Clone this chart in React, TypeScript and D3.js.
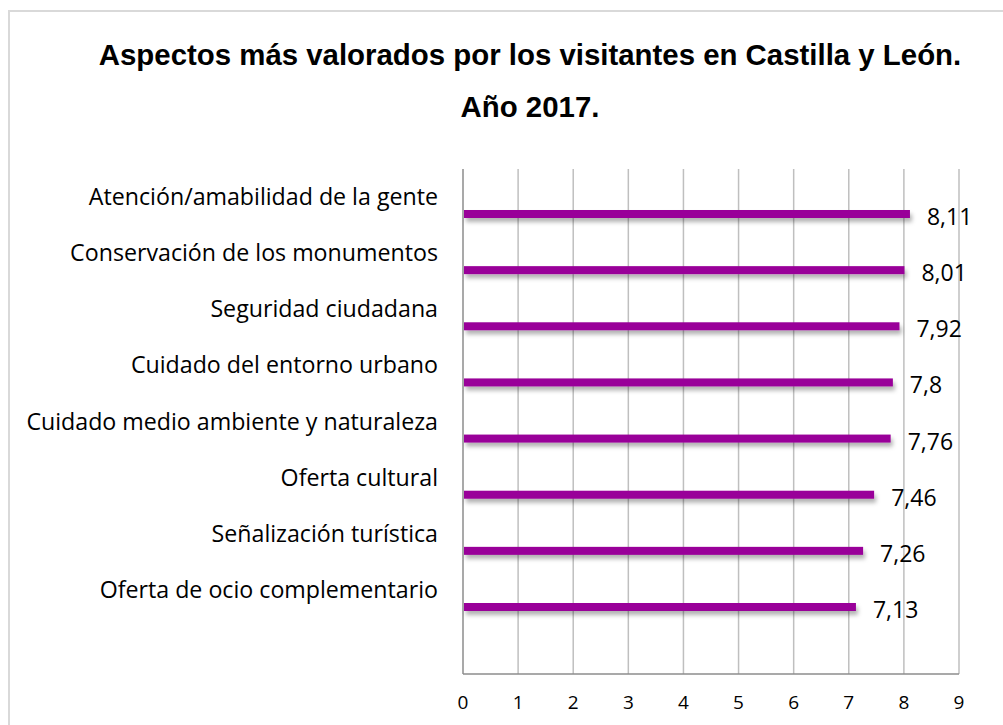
import * as d3 from 'd3'
import { useEffect, useRef } from 'react'

const CATEGORIES = [
  'Atención/amabilidad de la gente',
  'Conservación de los monumentos',
  'Seguridad ciudadana',
  'Cuidado del entorno urbano',
  'Cuidado medio ambiente y naturaleza',
  'Oferta cultural',
  'Señalización turística',
  'Oferta de ocio complementario',
]
const VALUES = [8.11, 8.01, 7.92, 7.8, 7.76, 7.46, 7.26, 7.13]
const TICKS = [0, 1, 2, 3, 4, 5, 6, 7, 8, 9]
const TITLE = ['Aspectos más valorados por los visitantes en Castilla y León.', 'Año 2017.']

const W = 1003
const H = 725
const BAR = '#990099'

export default function App() {
  const ref = useRef<SVGSVGElement | null>(null)

  useEffect(() => {
    const svgEl = ref.current
    if (!svgEl) return
    const svg = d3.select(svgEl)
    svg.selectAll('*').remove()

    const plot = { left: 463, right: 959, top: 169, bottom: 674 }
    const x = d3.scaleLinear().domain([0, 9]).range([plot.left, plot.right])
    const y = d3.scalePoint<string>().domain(CATEGORIES).range([plot.top + 45, plot.bottom - 67])
    const fmt = (v: number) => String(v).replace('.', ',')

    const defs = svg.append('defs')
    const f = defs
      .append('filter')
      .attr('id', 'shadow')
      .attr('x', '-5%')
      .attr('y', '-100%')
      .attr('width', '110%')
      .attr('height', '400%')
    f.append('feDropShadow')
      .attr('dx', 2)
      .attr('dy', 4)
      .attr('stdDeviation', 2.2)
      .attr('flood-color', '#000')
      .attr('flood-opacity', 0.3)

    // outer frame
    svg
      .append('rect')
      .attr('x', 9)
      .attr('y', 11)
      .attr('width', W + 20)
      .attr('height', H + 20)
      .attr('fill', '#fff')
      .attr('stroke', '#d9d9d9')
      .attr('stroke-width', 2)

    const title = svg
      .append('text')
      .attr('text-anchor', 'middle')
      .attr('font-family', '"Liberation Sans", Arial, sans-serif')
      .attr('font-weight', 'bold')
      .attr('font-size', 29.4)
      .attr('fill', '#000')
    TITLE.forEach((t, i) => {
      title
        .append('tspan')
        .attr('x', 530)
        .attr('y', 65 + i * 52)
        .text(t)
    })

    // gridlines
    const gGrid = svg.append('g')
    TICKS.forEach((t) => {
      gGrid
        .append('line')
        .attr('x1', x(t))
        .attr('x2', x(t))
        .attr('y1', plot.top)
        .attr('y2', plot.bottom)
        .attr('stroke', t === 0 ? '#8c8c8c' : '#bfbfbf')
        .attr('stroke-width', 1.5)
    })
    gGrid
      .append('line')
      .attr('x1', plot.left)
      .attr('x2', plot.right)
      .attr('y1', plot.bottom)
      .attr('y2', plot.bottom)
      .attr('stroke', '#8c8c8c')
      .attr('stroke-width', 1.5)

    const font = '"Open Sans", Calibri, sans-serif'

    svg
      .append('g')
      .selectAll('text')
      .data(TICKS)
      .join('text')
      .attr('x', (d) => x(d))
      .attr('y', 709)
      .attr('text-anchor', 'middle')
      .attr('font-family', font)
      .attr('font-size', 19)
      .attr('fill', '#000')
      .text((d) => d)

    svg
      .append('g')
      .selectAll('text')
      .data(CATEGORIES)
      .join('text')
      .attr('x', 438)
      .attr('y', (d) => (y(d) ?? 0) - 9)
      .attr('text-anchor', 'end')
      .attr('font-family', font)
      .attr('font-size', 23.2)
      .attr('fill', '#000')
      .text((d) => d)

    const bh = 8
    svg
      .append('g')
      .selectAll('rect')
      .data(VALUES)
      .join('rect')
      .attr('x', x(0) + 1)
      .attr('y', (_, i) => (y(CATEGORIES[i]) ?? 0) - bh / 2)
      .attr('width', (d) => x(d) - x(0) - 1)
      .attr('height', bh)
      .attr('fill', BAR)
      .attr('filter', 'url(#shadow)')

    svg
      .append('g')
      .selectAll('text')
      .data(VALUES)
      .join('text')
      .attr('x', (d) => x(d) + 17)
      .attr('y', (_, i) => (y(CATEGORIES[i]) ?? 0) + 11)
      .attr('font-family', font)
      .attr('font-size', 23)
      .attr('fill', '#000')
      .text((d) => fmt(d))
  }, [])

  return (
    <svg
      ref={ref}
      width={W}
      height={H}
      style={{ position: 'absolute', left: 0, top: 0, display: 'block' }}
    />
  )
}
